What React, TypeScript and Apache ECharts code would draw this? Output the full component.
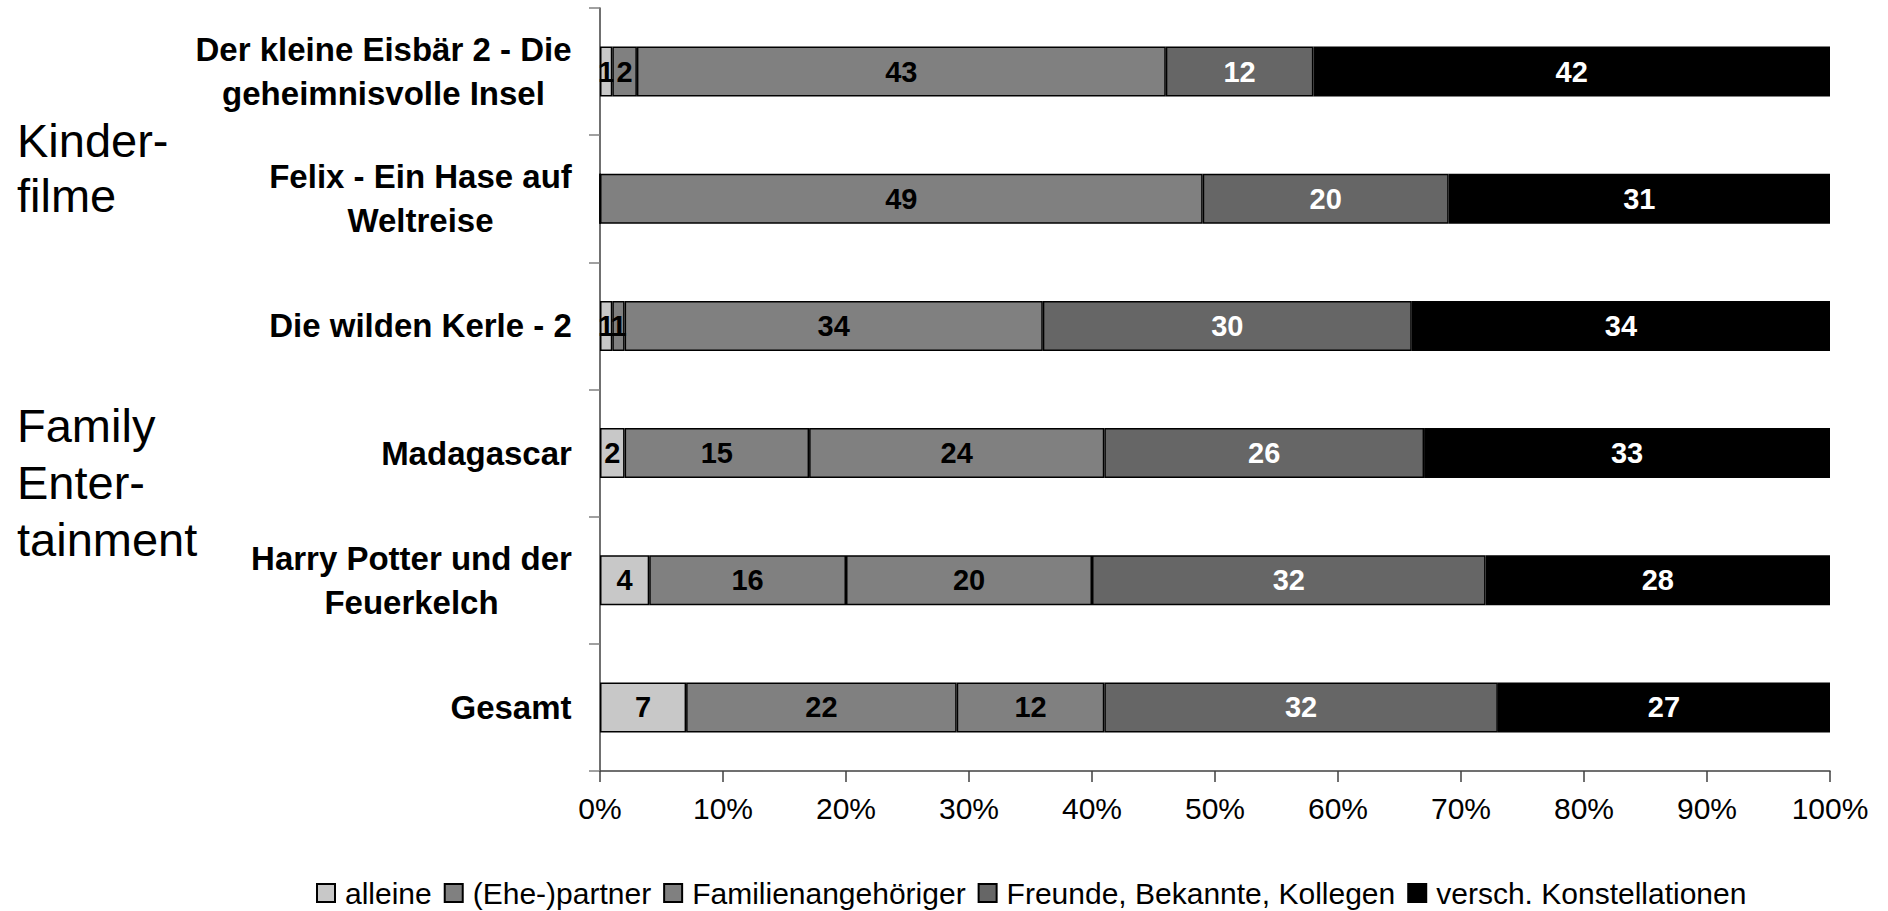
import React, { useEffect, useRef } from "react";
import * as echarts from "echarts";

const categories = [
  "Der kleine Eisbär 2 - Die\ngeheimnisvolle Insel",
  "Felix - Ein Hase auf\nWeltreise",
  "Die wilden Kerle - 2",
  "Madagascar",
  "Harry Potter und der\nFeuerkelch",
  "Gesamt",
];
const seriesNames = [
  "alleine",
  "(Ehe-)partner",
  "Familienangehöriger",
  "Freunde, Bekannte, Kollegen",
  "versch. Konstellationen",
];
const alleine = [1, 0, 1, 2, 4, 7];
const partner = [2, 0, 1, 15, 16, 22];
const familie = [43, 49, 34, 24, 20, 12];
const freunde = [12, 20, 30, 26, 32, 32];
const versch = [42, 31, 34, 33, 28, 27];
const xTicks = [0, 10, 20, 30, 40, 50, 60, 70, 80, 90, 100];

const colors = ["#c8c8c8", "#808080", "#808080", "#666666", "#000000"];
const labelColors = ["#000", "#000", "#000", "#fff", "#fff"];
const FONT = '"Liberation Sans", Arial, sans-serif';

export default function App() {
  const ref = useRef<HTMLDivElement>(null);
  useEffect(() => {
    document.body.style.margin = "0";
    const chart = echarts.init(ref.current!, null, { renderer: "svg" });
    const ctx = document.createElement("canvas").getContext("2d")!;
    ctx.font = 'bold 33px "Liberation Sans"';
    const rich: any = {};
    categories.forEach((c, i) => {
      const w = Math.max(...c.split("\n").map((l) => ctx.measureText(l).width));
      rich["c" + i] = {
        width: Math.ceil(w) + 2,
        align: "center",
        fontSize: 33,
        fontWeight: "bold",
        fontFamily: FONT,
        color: "#000",
        lineHeight: 44,
      };
    });
    const data = [alleine, partner, familie, freunde, versch];
    chart.setOption({
      animation: false,
      grid: { left: 600, right: 58, top: 8, bottom: 140 },
      legend: {
        left: 311,
        top: 873,
        icon: "rect",
        itemWidth: 18,
        itemHeight: 18,
        itemGap: 12,
        textStyle: { fontSize: 30, fontFamily: FONT, color: "#000", padding: [0, 0, 0, 5] },
        data: seriesNames,
      },
      graphic: [
        {
          type: "text",
          left: 17,
          top: 113,
          style: { text: "Kinder-\nfilme", fontSize: 47, fontFamily: FONT, fill: "#000", lineHeight: 55 },
        },
        {
          type: "text",
          left: 17,
          top: 397,
          style: { text: "Family\nEnter-\ntainment", fontSize: 47, fontFamily: FONT, fill: "#000", lineHeight: 57 },
        },
      ],
      xAxis: {
        type: "value",
        min: 0,
        max: 100,
        interval: 10,
        splitLine: { show: false },
        axisLine: { show: true, lineStyle: { color: "#404040", width: 1.5 } },
        axisTick: { show: true, length: 11, lineStyle: { color: "#404040", width: 1.5 } },
        axisLabel: {
          formatter: (v: number) => (xTicks.includes(v) ? v + "%" : ""),
          fontSize: 30,
          fontFamily: FONT,
          color: "#000",
          margin: 22,
        },
      },
      yAxis: {
        type: "category",
        inverse: true,
        data: categories,
        axisLine: { show: true, lineStyle: { color: "#404040", width: 1.5 } },
        axisTick: { show: true, length: 11, lineStyle: { color: "#808080", width: 1.5 } },
        axisLabel: {
          margin: 27,
          formatter: (v: string, i: number) =>
            v.split("\n").map((l) => `{c${i}|${l}}`).join("\n"),
          rich,
        },
      },
      series: seriesNames.map((name, si) => ({
        name,
        type: "bar",
        stack: "total",
        barWidth: 50,
        data: data[si],
        itemStyle: { color: colors[si], borderColor: "#000", borderWidth: 1.5 },
        label: {
          show: true,
          position: "inside",
          formatter: (p: any) => (p.value > 0 ? String(p.value) : ""),
          fontSize: 29,
          fontWeight: "bold",
          fontFamily: FONT,
          color: labelColors[si],
        },
      })),
    });
    return () => chart.dispose();
  }, []);
  return <div ref={ref} style={{ width: 1888, height: 911 }} />;
}
